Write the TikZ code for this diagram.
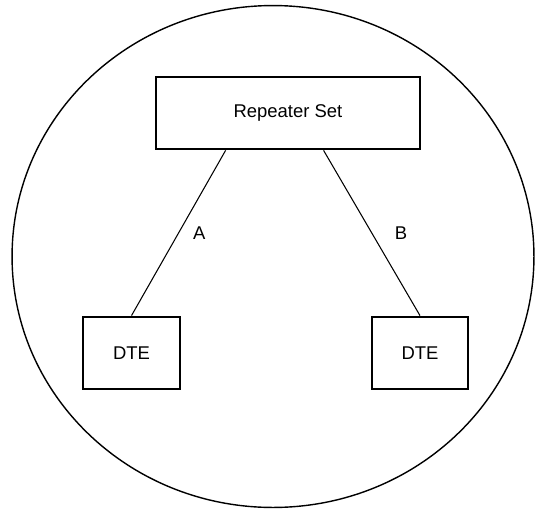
\documentclass[tikz,border=0pt]{standalone}
\usepackage{fontspec}
\setmainfont{Liberation Sans}
\usetikzlibrary{positioning}
\tikzset{
	unitbox/.style={rectangle, draw=black, line width=1.6pt, fill=white,
		align=center, font=\fontsize{10.5}{12}\selectfont, inner sep=3pt},
	link/.style={line width=0.6pt},
	linklabel/.style={font=\fontsize{10.5}{12}\selectfont, inner sep=0pt}
}
\begin{document}
\begin{tikzpicture}[x=0.02cm, y=-0.02cm]
	\useasboundingbox (0,0) rectangle (537,514);
	\draw[line width=0.8pt] (273,256.5) ellipse [x radius=5.22cm, y radius=5.02cm];
	\node[unitbox, minimum width=5.28cm, minimum height=1.44cm] (rep) at (288,113) {Repeater Set};
	\node[unitbox, minimum width=1.94cm, minimum height=1.44cm] (dtel) at (131.5,353) {DTE};
	\node[unitbox, minimum width=1.92cm, minimum height=1.44cm] (dter) at (420,353) {DTE};
	\draw[link] ([xshift=1.42cm]rep.south west) -- node[linklabel, midway, right=0.28cm] {A} (dtel.north);
	\draw[link] ([xshift=3.38cm]rep.south west) -- node[linklabel, midway, right=0.45cm] {B} (dter.north);
\end{tikzpicture}
\end{document}
